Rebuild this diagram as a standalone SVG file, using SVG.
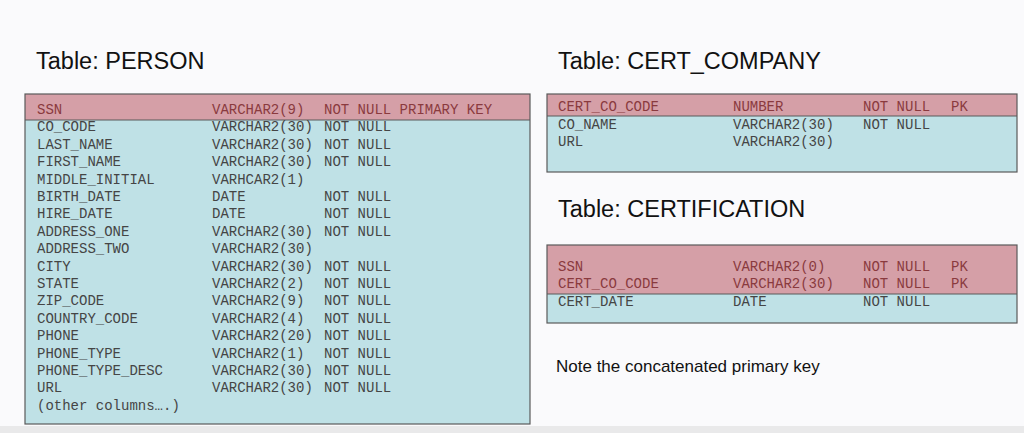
<svg xmlns="http://www.w3.org/2000/svg" width="1024" height="433" viewBox="0 0 1024 433">
  <style>
    .title { font-family: "Liberation Sans", Arial, sans-serif; font-size: 23.5px; fill: #111; }
    .note { font-family: "Liberation Sans", Arial, sans-serif; font-size: 17px; fill: #111; }
    .col { font-family: "Liberation Mono", "Courier New", monospace; font-size: 14px; }
    .pk { fill: #8a3a3e; }
    .body { fill: #454545; }
    .hdr { fill: #d59fa7; }
    .bdy { fill: #bfe1e6; }
    .frame { fill: none; stroke: #5a5a5a; stroke-width: 1.2; }
    .sep { stroke: #5a5a5a; stroke-width: 1.2; }
  </style>

  <!-- page background -->
  <rect x="0" y="0" width="1024" height="433" fill="#fafafc"/>
  <rect x="0" y="426" width="1024" height="7" fill="#e9e9ea"/>

  <!-- PERSON table -->
  <g id="person">
    <text class="title" x="36" y="69">Table: PERSON</text>
    <rect class="bdy" x="25" y="94" width="505" height="330"/>
    <rect class="hdr" x="25" y="94" width="505" height="26"/>
    <line class="sep" x1="25" y1="120" x2="530" y2="120"/>
    <rect class="frame" x="25" y="94" width="505" height="330"/>
    <g class="col pk">
      <text x="37" y="114">SSN</text>
      <text x="212" y="114">VARCHAR2(9)</text>
      <text x="324" y="114">NOT NULL PRIMARY KEY</text>
    </g>
    <g class="col body">
      <text x="37" y="131.4">CO_CODE</text><text x="212" y="131.4">VARCHAR2(30)</text><text x="324" y="131.4">NOT NULL</text>
      <text x="37" y="148.8">LAST_NAME</text><text x="212" y="148.8">VARCHAR2(30)</text><text x="324" y="148.8">NOT NULL</text>
      <text x="37" y="166.2">FIRST_NAME</text><text x="212" y="166.2">VARCHAR2(30)</text><text x="324" y="166.2">NOT NULL</text>
      <text x="37" y="183.6">MIDDLE_INITIAL</text><text x="212" y="183.6">VARHCAR2(1)</text>
      <text x="37" y="201">BIRTH_DATE</text><text x="212" y="201">DATE</text><text x="324" y="201">NOT NULL</text>
      <text x="37" y="218.4">HIRE_DATE</text><text x="212" y="218.4">DATE</text><text x="324" y="218.4">NOT NULL</text>
      <text x="37" y="235.8">ADDRESS_ONE</text><text x="212" y="235.8">VARCHAR2(30)</text><text x="324" y="235.8">NOT NULL</text>
      <text x="37" y="253.2">ADDRESS_TWO</text><text x="212" y="253.2">VARCHAR2(30)</text>
      <text x="37" y="270.6">CITY</text><text x="212" y="270.6">VARCHAR2(30)</text><text x="324" y="270.6">NOT NULL</text>
      <text x="37" y="288">STATE</text><text x="212" y="288">VARCHAR2(2)</text><text x="324" y="288">NOT NULL</text>
      <text x="37" y="305.4">ZIP_CODE</text><text x="212" y="305.4">VARCHAR2(9)</text><text x="324" y="305.4">NOT NULL</text>
      <text x="37" y="322.8">COUNTRY_CODE</text><text x="212" y="322.8">VARCHAR2(4)</text><text x="324" y="322.8">NOT NULL</text>
      <text x="37" y="340.2">PHONE</text><text x="212" y="340.2">VARCHAR2(20)</text><text x="324" y="340.2">NOT NULL</text>
      <text x="37" y="357.6">PHONE_TYPE</text><text x="212" y="357.6">VARCHAR2(1)</text><text x="324" y="357.6">NOT NULL</text>
      <text x="37" y="375">PHONE_TYPE_DESC</text><text x="212" y="375">VARCHAR2(30)</text><text x="324" y="375">NOT NULL</text>
      <text x="37" y="392.4">URL</text><text x="212" y="392.4">VARCHAR2(30)</text><text x="324" y="392.4">NOT NULL</text>
      <text x="37" y="409.8">(other columns….)</text>
    </g>
  </g>

  <!-- CERT_COMPANY table -->
  <g id="cert_company">
    <text class="title" x="558" y="69">Table: CERT_COMPANY</text>
    <rect class="bdy" x="547" y="94" width="470" height="78"/>
    <rect class="hdr" x="547" y="94" width="470" height="22"/>
    <line class="sep" x1="547" y1="116" x2="1017" y2="116"/>
    <rect class="frame" x="547" y="94" width="470" height="78"/>
    <g class="col pk">
      <text x="558" y="111">CERT_CO_CODE</text>
      <text x="733" y="111">NUMBER</text>
      <text x="863" y="111">NOT NULL</text>
      <text x="951" y="111">PK</text>
    </g>
    <g class="col body">
      <text x="558" y="128.5">CO_NAME</text><text x="733" y="128.5">VARCHAR2(30)</text><text x="863" y="128.5">NOT NULL</text>
      <text x="558" y="146">URL</text><text x="733" y="146">VARCHAR2(30)</text>
    </g>
  </g>

  <!-- CERTIFICATION table -->
  <g id="certification">
    <text class="title" x="558" y="217">Table: CERTIFICATION</text>
    <rect class="bdy" x="547" y="245" width="470" height="78"/>
    <rect class="hdr" x="547" y="245" width="470" height="49"/>
    <line class="sep" x1="547" y1="294" x2="1017" y2="294"/>
    <rect class="frame" x="547" y="245" width="470" height="78"/>
    <g class="col pk">
      <text x="558" y="271">SSN</text><text x="733" y="271">VARCHAR2(0)</text><text x="863" y="271">NOT NULL</text><text x="951" y="271">PK</text>
      <text x="558" y="288">CERT_CO_CODE</text><text x="733" y="288">VARCHAR2(30)</text><text x="863" y="288">NOT NULL</text><text x="951" y="288">PK</text>
    </g>
    <g class="col body">
      <text x="558" y="306">CERT_DATE</text><text x="733" y="306">DATE</text><text x="863" y="306">NOT NULL</text>
    </g>
  </g>

  <g id="note">
    <text class="note" x="556" y="372">Note the concatenated primary key</text>
  </g>
</svg>
